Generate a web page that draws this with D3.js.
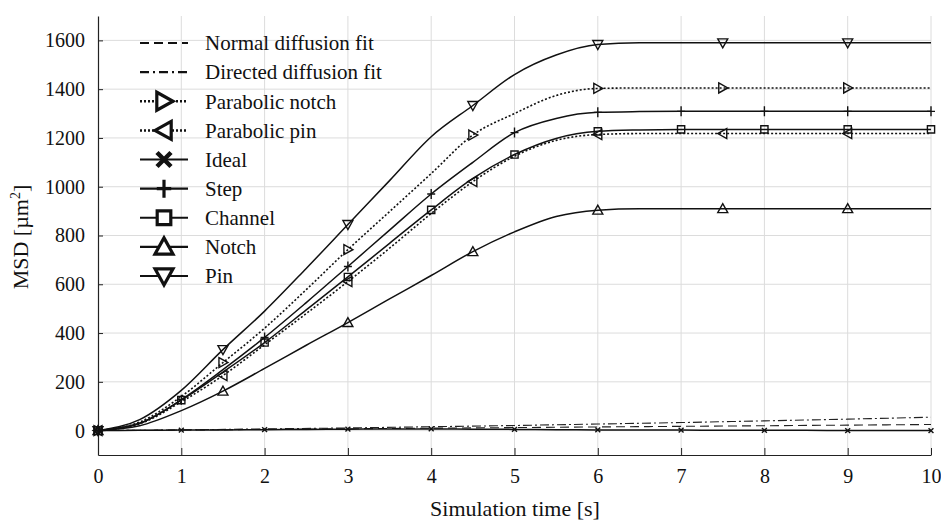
<!DOCTYPE html>
<html><head><meta charset="utf-8">
<script src="https://cdn.jsdelivr.net/npm/d3@7"></script>
<style>body{margin:0;background:#fff} text{font-family:"Liberation Serif","Times New Roman",Times,"DejaVu Serif","Noto Serif",serif}</style>
</head><body><svg id="c" width="941" height="521"></svg>
<script>
// ---- data ----
const time = [0,0.5,1,1.5,2,2.5,3,3.5,4,4.5,5,5.5,6,6.5,7,7.5,8,8.5,9,9.5,10];
const pin            = [0,45,165,332,490,665,845,1025,1205,1333,1460,1540,1583,1590,1590,1590,1590,1590,1590,1590,1590];
const parabolicNotch = [0,35,140,279,420,578,742,898,1054,1212,1300,1374,1403,1405,1405,1405,1405,1405,1405,1405,1405];
const step           = [0,30,127,250,382,525,673,822,970,1100,1222,1280,1305,1308,1309,1309,1309,1309,1309,1309,1309];
const channel        = [0,30,125,240,361,495,630,768,905,1034,1132,1198,1227,1233,1235,1235,1235,1235,1235,1235,1235];
const parabolicPin   = [0,28,118,226,352,480,611,748,890,1021,1125,1190,1214,1218,1218,1218,1218,1218,1218,1218,1218];
const notch          = [0,20,82,162,255,350,443,540,636,734,815,878,904,910,910,910,910,910,910,910,910];
const ideal          = [0,1,2,3,4,5,6,7,7,6,5,4,3,2,2,1,1,1,0,0,0];
const fitTime        = [0,1,2,3,4,5,6,7,8,9,10];
const normalFit      = [0,2.5,5,7.5,10,12.5,15,17.5,20,22.5,25];
const directedFit    = [0,3,7,11,16,21,27,33,40,47,55];
const triMarkerTimes = [0,1.5,3,4.5,6,7.5,9];
const intMarkerTimes = [0,1,2,3,4,5,6,7,8,9,10];
const xTicks = [0,1,2,3,4,5,6,7,8,9,10];
const yTicks = [0,200,400,600,800,1000,1200,1400,1600];
const legendLabels = ["Normal diffusion fit","Directed diffusion fit","Parabolic notch","Parabolic pin","Ideal","Step","Channel","Notch","Pin"];

// ---- chart ----
const svg = d3.select("#c");
const serif = '"Liberation Serif","Times New Roman",Times,"DejaVu Serif","Noto Serif",serif';
const x = d3.scaleLinear().domain([0,10]).range([98,931]);
const y = d3.scaleLinear().domain([-100,1700]).range([455,16]);

// grid
svg.append("g").selectAll("line").data(xTicks.slice(1)).join("line")
  .attr("x1",d=>x(d)).attr("x2",d=>x(d)).attr("y1",y(-100)).attr("y2",y(1700))
  .attr("stroke","#dcdcdc").attr("stroke-width",1);
svg.append("g").selectAll("line").data(yTicks).join("line")
  .attr("x1",x(0)).attr("x2",x(10)).attr("y1",d=>y(d)).attr("y2",d=>y(d))
  .attr("stroke","#dcdcdc").attr("stroke-width",1);

// axes
const xAxis = svg.append("g").attr("transform",`translate(0,${y(-100)})`)
  .call(d3.axisBottom(x).tickValues(xTicks).tickFormat(d3.format("d")).tickSizeInner(-7).tickSizeOuter(0).tickPadding(14));
const yAxis = svg.append("g").attr("transform",`translate(${x(0)},0)`)
  .call(d3.axisLeft(y).tickValues(yTicks).tickFormat(d3.format("d")).tickSizeInner(-5).tickSizeOuter(0).tickPadding(13));
[xAxis,yAxis].forEach(a=>{
  a.attr("font-family",null);
  a.selectAll("path").attr("stroke","#222").attr("stroke-width",1.2);
  a.selectAll("line").attr("stroke","#222");
  a.selectAll("text").style("font-family",serif).attr("font-size",20).attr("fill","#111");
});

svg.append("text").attr("x",515).attr("y",516).attr("text-anchor","middle")
  .style("font-family",serif).attr("font-size",22).attr("fill","#111").text("Simulation time [s]");
svg.append("text").attr("transform",`translate(28,237) rotate(-90)`).attr("text-anchor","middle")
  .style("font-family",serif).attr("font-size",22).attr("fill","#111")
  .html("MSD [µm<tspan dy='-8' font-size='14'>2</tspan><tspan dy='8'>]</tspan>");

// marker shapes
function markerPath(type, s){
  const h=s/2;
  switch(type){
    case "tr": return `M${-h*0.8},${-h}L${h},0L${-h*0.8},${h}Z`;
    case "tl": return `M${h*0.8},${-h}L${-h},0L${h*0.8},${h}Z`;
    case "tu": return `M${-h},${h*0.8}L0,${-h}L${h},${h*0.8}Z`;
    case "td": return `M${-h},${-h*0.8}L0,${h}L${h},${-h*0.8}Z`;
    case "sq": return `M${-h*0.8},${-h*0.8}h${1.6*h}v${1.6*h}h${-1.6*h}Z`;
    case "plus": return `M0,${-h}V${h}M${-h*0.8},0H${h*0.8}`;
    case "x": return `M${-h*0.7},${-h*0.7}L${h*0.7},${h*0.7}M${-h*0.7},${h*0.7}L${h*0.7},${-h*0.7}`;
  }
  return "";
}

const series = [
  {name:"Ideal", vals:ideal, dash:null, marker:"x", mt:intMarkerTimes, size:7},
  {name:"Notch", vals:notch, dash:null, marker:"tu", mt:triMarkerTimes, size:10},
  {name:"Parabolic pin", vals:parabolicPin, dash:"2,2", marker:"tl", mt:triMarkerTimes, size:10},
  {name:"Channel", vals:channel, dash:null, marker:"sq", mt:intMarkerTimes, size:9},
  {name:"Step", vals:step, dash:null, marker:"plus", mt:intMarkerTimes, size:10},
  {name:"Parabolic notch", vals:parabolicNotch, dash:"2,2", marker:"tr", mt:triMarkerTimes, size:10},
  {name:"Pin", vals:pin, dash:null, marker:"td", mt:triMarkerTimes, size:10}
];

const line = d3.line().x(d=>x(d[0])).y(d=>y(d[1])).curve(d3.curveMonotoneX);

// fits
svg.append("path").datum(fitTime.map((t,i)=>[t,normalFit[i]])).attr("d",line)
  .attr("fill","none").attr("stroke","#222").attr("stroke-width",1.1).attr("stroke-dasharray","9,5");
svg.append("path").datum(fitTime.map((t,i)=>[t,directedFit[i]])).attr("d",line)
  .attr("fill","none").attr("stroke","#222").attr("stroke-width",1.1).attr("stroke-dasharray","9,3,2,3");

series.forEach(s=>{
  const pts = time.map((t,i)=>[t,s.vals[i]]);
  const p = svg.append("path").datum(pts).attr("d",line).attr("fill","none")
    .attr("stroke","#111").attr("stroke-width",s.dash?1.6:1.5);
  if(s.dash) p.attr("stroke-dasharray",s.dash);
  svg.append("g").selectAll("path").data(s.mt).join("path")
    .attr("transform",t=>`translate(${x(t)},${y(s.vals[time.indexOf(t)])})`)
    .attr("d",markerPath(s.marker,s.size))
    .attr("fill","none").attr("stroke","#111").attr("stroke-width",1.4);
});

// legend
const legendInfo = [
  {dash:"9,5", marker:null},
  {dash:"9,4,2,4", marker:null},
  {dash:"2,2", marker:"tr"},
  {dash:"2,2", marker:"tl"},
  {dash:null, marker:"x"},
  {dash:null, marker:"plus"},
  {dash:null, marker:"sq"},
  {dash:null, marker:"tu"},
  {dash:null, marker:"td"}
];
const ly = d3.scalePoint().domain(legendLabels).range([43,276]);
const lg = svg.append("g");
legendLabels.forEach((lab,i)=>{
  const info = legendInfo[i], cy = ly(lab);
  const l = lg.append("line").attr("x1",140).attr("x2",188).attr("y1",cy).attr("y2",cy)
    .attr("stroke","#111").attr("stroke-width",info.dash && info.dash.startsWith("2")?2.5:2.2);
  if(info.dash) l.attr("stroke-dasharray",info.dash);
  if(info.marker){
    lg.append("path").attr("transform",`translate(164,${cy})`)
      .attr("d",markerPath(info.marker, info.marker==="x"?20:(info.marker==="sq"?17:18)))
      .attr("fill","#fff").attr("stroke","#111")
      .attr("stroke-width",info.marker==="x"?4.5:3.2);
  }
  lg.append("text").attr("x",205).attr("y",cy).attr("dy","0.35em")
    .style("font-family",serif).attr("font-size",21).attr("fill","#111").text(lab);
});
</script></body></html>
